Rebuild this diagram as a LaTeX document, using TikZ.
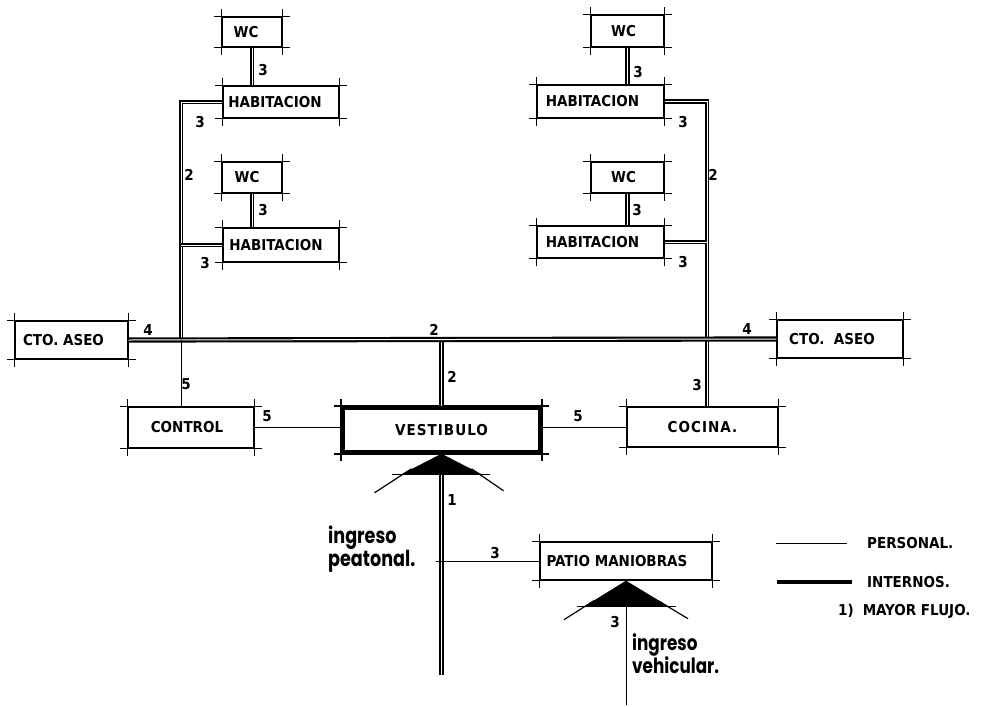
\documentclass[tikz,border=0pt]{standalone}
\usepackage{fontspec}
\usepackage{graphicx}
\setmainfont{Liberation Sans}
\newfontfamily\lab{DejaVuSansCondensed-Bold.ttf}
\newfontfamily\labsp{DejaVuSansCondensed-Bold.ttf}[LetterSpace=7]
\newfontfamily\hand{Poppins}
\usetikzlibrary{calc}
\newcommand\roomext[2][1.3pt]{%
  \draw[line width=#1] ([xshift=-7pt]#2.north west) -- ([xshift=7pt]#2.north east);
  \draw[line width=#1] ([xshift=-7pt]#2.south west) -- ([xshift=7pt]#2.south east);
  \draw[line width=#1] ([yshift=7pt]#2.north west) -- ([yshift=-7pt]#2.south west);
  \draw[line width=#1] ([yshift=7pt]#2.north east) -- ([yshift=-7pt]#2.south east);
}
\begin{document}
\begin{tikzpicture}[x=1pt,y=-1pt,
  room/.style={draw, line width=1.3pt, inner sep=0pt, font=\lab\fontsize{15}{17}\selectfont},
  intern/.style={line width=1.8pt, double distance=0.9pt},
  intmain/.style={line width=2.1pt, double distance=1pt},
  personal/.style={line width=1pt},
  num/.style={font=\lab\fontsize{15}{17}\selectfont, inner sep=0pt},
  legtext/.style={font=\lab\fontsize{15}{17}\selectfont, inner sep=0pt, anchor=west},
  handtext/.style={inner sep=0pt, anchor=north west, align=left},
]
\useasboundingbox (0,0) rectangle (984,706);

% rooms
\node[room, minimum width=60, minimum height=30] (wcL1) at (252,32) {\hspace*{-12pt}WC};
\node[room, minimum width=116, minimum height=32] (habL1) at (281,102) {\hspace*{-12pt}HABITACION};
\node[room, minimum width=60, minimum height=31] (wcL2) at (252,177.5) {\hspace*{-10pt}WC};
\node[room, minimum width=116, minimum height=34] (habL2) at (281,245) {\hspace*{-10pt}HABITACION};
\node[room, minimum width=73, minimum height=32] (wcR1) at (627.5,31) {\hspace*{-8pt}WC};
\node[room, minimum width=127, minimum height=33] (habR1) at (600.5,101.5) {\hspace*{-16pt}HABITACION};
\node[room, minimum width=73, minimum height=31] (wcR2) at (627.5,177.5) {\hspace*{-8pt}WC};
\node[room, minimum width=127, minimum height=32] (habR2) at (600.5,242) {\hspace*{-16pt}HABITACION};
\node[room, minimum width=113, minimum height=38] (asL) at (71.5,340) {\hspace*{-16pt}CTO.\ ASEO};
\node[room, minimum width=126, minimum height=38] (asR) at (840,339) {\hspace*{-16pt}CTO.\ \ ASEO};
\node[room, minimum width=126, minimum height=41] (ctrl) at (191,427.5) {\hspace*{-8pt}CONTROL};
\node[room, line width=3.5pt, minimum width=197, minimum height=44, font=\labsp\fontsize{15}{17}\selectfont] (vest) at (441.5,430) {VESTIBULO};
\node[room, minimum width=151, minimum height=40, font=\labsp\fontsize{15}{17}\selectfont] (coc) at (702.5,427) {COCINA.};
\node[room, minimum width=172, minimum height=38] (patio) at (626,561) {\hspace*{-18pt}PATIO MANIOBRAS};

\foreach \n in {wcL1,habL1,wcL2,habL2,wcR1,habR1,wcR2,habR2,asL,asR,ctrl,coc,patio}{\roomext{\n}}
\roomext[2pt]{vest}

% junctions
\coordinate (jL) at (181,340);
\coordinate (jR) at (707,340);
\coordinate (pin) at (441.5,675);
\coordinate (vin) at (626,705);

% internal connections
\draw[intern] (wcL1.south) -- (wcL1.south |- habL1.north);
\draw[intern] (wcL2.south) -- (wcL2.south |- habL2.north);
\draw[intern] (wcR1.south) -- (wcR1.south |- habR1.north);
\draw[intern] (wcR2.south) -- (wcR2.south |- habR2.north);
\draw[intern] (habL1.west) -| (jL);
\draw[intern] (habL2.west) -- (habL2.west -| jL);
\draw[intern] (habR1.east) -| (jR);
\draw[intern] (habR2.east) -- (habR2.east -| jR);
\draw[intern] (vest.north |- jL) -- (vest.north);
\draw[intern] (jR) -- (jR |- coc.north);
\draw[intmain] (asL.east) -- (asR.west);
\draw[intern] (pin) -- (vest.south);

% personal connections
\draw[personal] (jL) -- (jL |- ctrl.north);
\draw[personal] (ctrl.east) -- (ctrl.east -| vest.west);
\draw[personal] (vest.east |- coc.west) -- (coc.west);
\draw[personal] ([xshift=-6pt]pin |- patio.west) -- (patio.west);
\draw[personal] (vin) -- (patio.south);

% entrance marks
\fill (vest.south) -- ++(-41,21) -- ++(82,0) -- cycle;
\draw[personal] ($(vest.south)+(-50,21)$) -- ($(vest.south)+(48,21)$);
\draw[line width=1.2pt] ($(vest.south)+(-30,15)$) -- ($(vest.south)+(-67,39)$);
\draw[line width=1.2pt] ($(vest.south)+(30,15)$) -- ($(vest.south)+(62,37)$);
\fill (patio.south) -- ++(-42,26) -- ++(85,0) -- cycle;
\draw[personal] ($(patio.south)+(-49,26)$) -- ($(patio.south)+(50,26)$);
\draw[line width=1.2pt] ($(patio.south)+(-32,20)$) -- ($(patio.south)+(-62,39)$);
\draw[line width=1.2pt] ($(patio.south)+(32,20)$) -- ($(patio.south)+(62,38)$);

% number labels
\node[num] (n1) at (263,70) {3};
\node[num] (n2) at (200,122) {3};
\node[num] (n3) at (189,175) {2};
\node[num] (n4) at (263,210) {3};
\node[num] (n5) at (205,263) {3};
\node[num] (n6) at (638,72) {3};
\node[num] (n7) at (683,122) {3};
\node[num] (n8) at (713,175) {2};
\node[num] (n9) at (637,210) {3};
\node[num] (n10) at (683,262) {3};
\node[num] (n11) at (148,330) {4};
\node[num] (n12) at (434,330) {2};
\node[num] (n13) at (747,329) {4};
\node[num] (n14) at (186,384) {5};
\node[num] (n15) at (452,377) {2};
\node[num] (n16) at (697,385) {3};
\node[num] (n17) at (267,416) {5};
\node[num] (n18) at (578,416) {5};
\node[num] (n19) at (452,500) {1};
\node[num] (n20) at (495,553) {3};
\node[num] (n21) at (615,622) {3};

% entrance texts
\node[handtext, font=\hand\bfseries\fontsize{22}{23}\selectfont] (tped) at (328,526)
  {\scalebox{0.8}[1]{ingreso}\\\scalebox{0.8}[1]{peatonal.}};
\node[handtext, font=\hand\bfseries\fontsize{21}{20}\selectfont] (tveh) at (632,633)
  {\scalebox{0.8}[1]{ingreso}\\\scalebox{0.8}[1]{vehicular.}};

% legend
\coordinate (lg1a) at (776,543);
\coordinate (lg1b) at (847,543);
\coordinate (lg2a) at (777,582);
\coordinate (lg2b) at (852,582);
\draw[personal] (lg1a) -- (lg1b);
\draw[line width=4pt] (lg2a) -- (lg2b);
\node[legtext] (lgt1) at (867,543) {PERSONAL.};
\node[legtext] (lgt2) at (867,582) {INTERNOS.};
\node[legtext] (lgt3) at (838,611) {1)\hspace{9pt}MAYOR FLUJO.};
\end{tikzpicture}
\end{document}
